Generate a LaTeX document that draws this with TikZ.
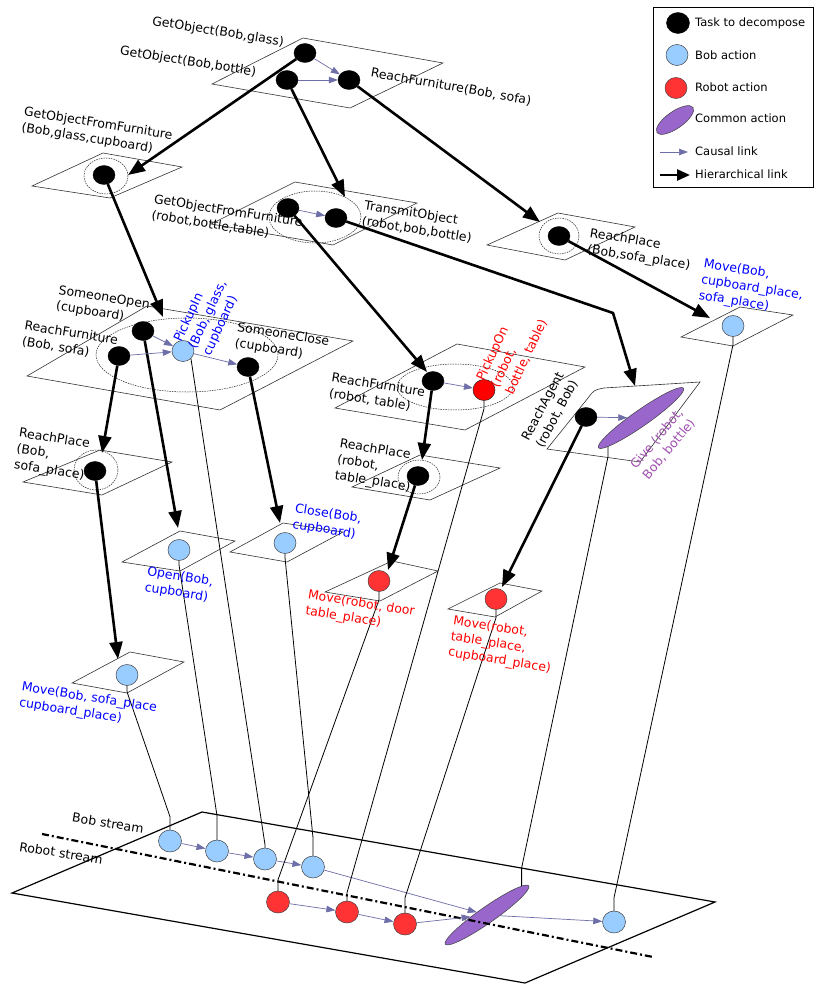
\documentclass[tikz,border=0pt]{standalone}
\usepackage{fontspec}
\setmainfont{DejaVu Sans}
\usetikzlibrary{arrows.meta,shapes.geometric,calc}
\definecolor{bobblue}{HTML}{99CCFF}
\definecolor{robred}{HTML}{FF3333}
\definecolor{comm}{HTML}{9966CC}
\definecolor{causal}{HTML}{6E6EA8}
\definecolor{txtblue}{HTML}{0000FF}
\definecolor{txtred}{HTML}{FF0000}
\definecolor{txtpurp}{HTML}{A050B0}
\definecolor{planec}{HTML}{333333}
\tikzset{
 plane/.style={draw=planec, line width=0.6pt},
 bigplane/.style={draw=black, line width=1.2pt},
 task/.style={ellipse, fill=black, draw=black, minimum width=22pt, minimum height=19pt, inner sep=0pt},
 bobact/.style={ellipse, fill=bobblue, draw=black!75, line width=0.5pt, minimum width=22pt, minimum height=21pt, inner sep=0pt},
 robact/.style={ellipse, fill=robred, draw=black!75, line width=0.5pt, minimum width=22pt, minimum height=21pt, inner sep=0pt},
 commact/.style={ellipse, fill=comm, draw=black!75, line width=0.5pt, minimum width=104pt, minimum height=16pt, inner sep=0pt, rotate=35},
 grp/.style={ellipse, draw=black!85, dash pattern=on 1.5pt off 1pt, line width=0.5pt, inner sep=0pt},
 hier/.style={line width=2.6pt, -{Triangle[length=17pt,width=13pt]}},
 cause/.style={draw=causal, line width=0.7pt, -{Triangle[length=9pt,width=6.5pt]}},
 trace/.style={line width=0.8pt, black},
 streamline/.style={line width=2.2pt, dash pattern=on 7pt off 3pt on 2pt off 3pt},
 lbl/.style={font=\fontsize{12.5}{16}\selectfont, inner sep=0pt, align=left},
 lblr/.style={lbl, rotate=-9},
 leglbl/.style={font=\fontsize{11.5}{14}\selectfont, inner sep=0pt, anchor=west},
}
\begin{document}
\begin{tikzpicture}[x=1pt,y=-1pt]
\useasboundingbox (0,0) rectangle (815,987);
\fill[white] (0,0) rectangle (815,987);

% ---------- planes ----------
\draw[plane] (212,84) -- (303,38) -- (443,63) -- (350,108) -- cycle;
\draw[plane] (32,186) -- (103,153) -- (182,167) -- (110,198) -- cycle;
\draw[plane] (211,224) -- (295,182) -- (417,203) -- (333,245) -- cycle;
\draw[plane] (487,245) -- (558,213) -- (635,227) -- (565,260) -- cycle;
\draw[plane] (681,337) -- (740,307) -- (793,315) -- (733,346) -- cycle;
\draw[plane] (27,376) -- (147,306) -- (353,341) -- (220,410) -- cycle;
\draw[plane] (335,408) -- (457,344) -- (585,367) -- (465,430) -- cycle;
\draw[plane] (547,449) -- (588,398) .. controls (594,390) .. (604,388) -- (700,382) -- (640,462) -- cycle;
\draw[plane] (23,482) -- (100,450) -- (172,462) -- (102,495) -- cycle;
\draw[plane] (352,487) -- (420,455) -- (500,468) -- (430,500) -- cycle;
\draw[plane] (122,562) -- (180,531) -- (235,541) -- (180,571) -- cycle;
\draw[plane] (230,552) -- (283,523) -- (343,532) -- (287,562) -- cycle;
\draw[plane] (325,592) -- (392,561) -- (438,571) -- (380,601) -- cycle;
\draw[plane] (448,609) -- (500,583) -- (542,591) -- (495,617) -- cycle;
\draw[plane] (72,683) -- (130,652) -- (184,662) -- (127,693) -- cycle;
\draw[bigplane] (12,893) -- (202,812) -- (715,902) -- (525,983) -- cycle;

% ---------- group ellipses ----------
\node[grp, minimum width=44pt, minimum height=36pt] (grp1) at (106,176) {};
\node[grp, minimum width=92pt, minimum height=52pt] (grp2) at (315,217) {};
\node[grp, minimum width=40pt, minimum height=36pt] (grp3) at (559,236) {};
\node[grp, minimum width=182pt, minimum height=74pt] (grp4) at (187,355) {};
\node[grp, minimum width=116pt, minimum height=46pt] (grp5) at (455,387) {};
\node[grp, minimum width=44pt, minimum height=40pt] (grp6) at (96,470) {};
\node[grp, minimum width=42pt, minimum height=34pt] (grp7) at (419,477) {};

% ---------- nodes ----------
\node[task] (go1) at (305,53) {};
\node[task] (go2) at (287,80) {};
\node[task] (rf1) at (349,80) {};
\node[task] (goff1) at (104,175) {};
\node[task] (goff2) at (288,208) {};
\node[task] (tr) at (336,218) {};
\node[task] (rp1) at (559,236) {};
\node[bobact] (mv5) at (733,326) {};
\node[task] (so) at (143,331) {};
\node[task] (rf2) at (119,356) {};
\node[bobact] (pin) at (183,351) {};
\node[task] (sc) at (248,367) {};
\node[task] (rf3) at (433,381) {};
\node[robact, fill=red, draw=black!85] (pon) at (484,390) {};
\node[task] (ra) at (586,417) {};
\node[commact] (give) at (641,418) {};
\node[task] (rp3) at (95,471) {};
\node[task] (rp2) at (418,476) {};
\node[bobact] (op) at (179,550) {};
\node[bobact] (cl) at (285,543) {};
\node[robact] (mvd) at (379,581) {};
\node[robact] (mvt) at (496,599) {};
\node[bobact] (mvb) at (127,675) {};

% stream nodes
\node[bobact, minimum width=23pt, minimum height=22pt] (b1) at (170,841) {};
\node[bobact, minimum width=23pt, minimum height=22pt] (b2) at (217,851) {};
\node[bobact, minimum width=23pt, minimum height=22pt] (b3) at (265,859) {};
\node[bobact, minimum width=23pt, minimum height=22pt] (b4) at (313,867) {};
\node[bobact, minimum width=23pt, minimum height=22pt] (b5) at (614,922) {};
\node[robact, minimum width=23pt, minimum height=22pt] (r1) at (278,902) {};
\node[robact, minimum width=23pt, minimum height=22pt] (r2) at (347,912) {};
\node[robact, minimum width=23pt, minimum height=22pt] (r3) at (405,924) {};
\node[commact, minimum width=102pt] (cm) at (487,915) {};

% ---------- stream separator ----------
\coordinate (ds1) at (42,834);
\coordinate (ds2) at (653,957);
\draw[streamline] (ds1) -- (ds2);

% ---------- hierarchical links ----------
\coordinate (t1) at (128,175);
\coordinate (t2) at (345,197);
\coordinate (t3) at (540,222);
\coordinate (t4) at (163,317);
\coordinate (t5) at (427,372);
\coordinate (bend) at (613,313);
\coordinate (t6) at (635,386);
\coordinate (t7) at (710,318);
\coordinate (t8) at (178,528);
\coordinate (t9) at (102,453);
\coordinate (t10) at (280,523);
\coordinate (t11) at (422,460);
\coordinate (t12) at (388,570);
\coordinate (t13) at (502,587);
\coordinate (t14) at (118,659);
\draw[hier] (go1) -- (t1);
\draw[hier] (go2) -- (t2);
\draw[hier] (rf1) -- (t3);
\draw[hier] (goff1) -- (t4);
\draw[hier] (goff2) -- (t5);
\draw[hier] (tr) -- (bend) -- (t6);
\draw[hier] (rp1) -- (t7);
\draw[hier] (so) -- (t8);
\draw[hier] (rf2) -- (t9);
\draw[hier] (sc) -- (t10);
\draw[hier] (rf3) -- (t11);
\draw[hier] (rp2) -- (t12);
\draw[hier] (ra) -- (t13);
\draw[hier] (rp3) -- (t14);

% ---------- causal links ----------
\draw[cause] (go1) -- (rf1);
\draw[cause] (go2) -- (rf1);
\draw[cause] (goff2) -- (tr);
\draw[cause] (so) -- (pin);
\draw[cause] (rf2) -- (pin);
\draw[cause] (pin) -- (sc);
\draw[cause] (rf3) -- (pon);
\draw[cause] (ra) -- (give);
\draw[cause] (b1) -- (b2);
\draw[cause] (b2) -- (b3);
\draw[cause] (b3) -- (b4);
\draw[cause] (b4) -- (cm);
\draw[cause] (cm) -- (b5);
\draw[cause] (r1) -- (r2);
\draw[cause] (r2) -- (r3);
\draw[cause] (r3) -- (cm);

% ---------- traces to streams ----------
\draw[trace] (mvb.south) -- ++(0,6) -- ($(b1.north)+(0,-13)$) -- (b1.north);
\draw[trace] (op.south) -- ++(0,4) -- ($(b2.north)+(0,-24)$) -- (b2.north);
\draw[trace] (pin.south east) -- ($(b3.north)+(0,-3)$) -- (b3.north);
\draw[trace] (cl.south) -- ++(0,4) -- ($(b4.north)+(0,-18)$) -- (b4.north);
\draw[trace] (mvd.south) -- ++(0,8) -- ($(r1.north)+(0,-11)$) -- (r1.north);
\draw[trace] (pon.south) -- ++(0,8) -- ($(r2.north)+(0,-8)$) -- (r2.north);
\draw[trace] (mvt.south) -- ++(0,8) -- ($(r3.north)+(0,-15)$) -- (r3.north);
\draw[trace] (give.186) -- ++(0,10) -- ($(cm.5)+(0,-18)$) -- (cm.5);
\draw[trace] (mv5.south) -- ++(0,8) -- ($(b5.north)+(0,-13)$) -- (b5.north);

% ---------- labels ----------
\node[lblr] (l1) at (218,32) {GetObject(Bob,glass)};
\node[lblr] (l2) at (188,62) {GetObject(Bob,bottle)};
\node[lblr, rotate=-1] (l3) at (451,87) {ReachFurniture(Bob, sofa)};
\node[lblr] (l4) at (97,132) {GetObjectFromFurniture\\(Bob,glass,cupboard)};
\node[lblr] (l5) at (227,219) {GetObjectFromFurniture\\(robot,bottle,table)};
\node[lblr] (l6) at (418,222) {TransmitObject\\(robot,bob,bottle)};
\node[lblr] (l7) at (640,250) {ReachPlace\\(Bob,sofa\_place)};
\node[lblr, text=txtblue] (l8) at (752,288) {Move(Bob,\\cupboard\_place,\\sofa\_place)};
\node[lblr] (l9) at (103,306) {SomeoneOpen\\(cupboard)};
\node[lblr] (l10) at (70,341) {ReachFurniture\\(Bob, sofa)};
\node[lbl, rotate=65, text=txtblue] (l11) at (208,315) {PickupIn\\(Bob, glass,\\cupboard)};
\node[lblr] (l12) at (282,343) {SomeoneClose\\(cupboard)};
\node[lblr] (l13) at (377,393) {ReachFurniture\\(robot, table)};
\node[lbl, rotate=65, text=txtred] (l14) at (512,350) {PickupOn\\(robot,\\bottle, table)};
\node[lbl, rotate=62] (l15) at (550,410) {ReachAgent\\(robot, Bob)};
\node[lbl, rotate=50, text=txtpurp] (l16) at (663,444) {Give (robot,\\Bob, bottle)};
\node[lblr] (l17) at (52,455) {ReachPlace\\(Bob,\\sofa\_place)};
\node[lblr] (l18) at (375,466) {ReachPlace\\(robot,\\table\_place)};
\node[lblr, text=txtblue] (l19) at (179,585) {Open(Bob,\\cupboard)};
\node[lblr, text=txtblue] (l20) at (327,522) {Close(Bob,\\cupboard)};
\node[lblr, text=txtred] (l21) at (360,612) {Move(robot, door\\table\_place)};
\node[lblr, text=txtred] (l22) at (502,645) {Move(robot,\\table\_place,\\cupboard\_place)};
\node[lblr, text=txtblue] (l23) at (88,706) {Move(Bob, sofa\_place\\cupboard\_place)};
\node[lblr] (l24) at (108,823) {Bob stream};
\node[lblr] (l25) at (61,853) {Robot stream};

% ---------- legend ----------
\draw[line width=1pt] (653,8) rectangle (813,188);
\node[task, minimum width=23pt, minimum height=21pt] (lk1) at (678,23) {};
\node[bobact, minimum width=22pt, minimum height=21pt] (lk2) at (677,55) {};
\node[robact, minimum width=22pt, minimum height=21pt] (lk3) at (676,88) {};
\node[commact, minimum width=44pt, minimum height=17pt] (lk4) at (675,120) {};
\coordinate (lc1) at (660,152);
\coordinate (lc2) at (688,152);
\coordinate (lh1) at (660,175);
\coordinate (lh2) at (690,175);
\draw[cause] (lc1) -- (lc2);
\draw[hier, -{Triangle[length=13pt,width=11pt]}] (lh1) -- (lh2);
\node[leglbl] (lt1) at (695,23) {Task to decompose};
\node[leglbl] (lt2) at (695,55) {Bob action};
\node[leglbl] (lt3) at (695,87) {Robot action};
\node[leglbl] (lt4) at (695,118) {Common action};
\node[leglbl] (lt5) at (695,151) {Causal link};
\node[leglbl] (lt6) at (695,174) {Hierarchical link};
\end{tikzpicture}
\end{document}
